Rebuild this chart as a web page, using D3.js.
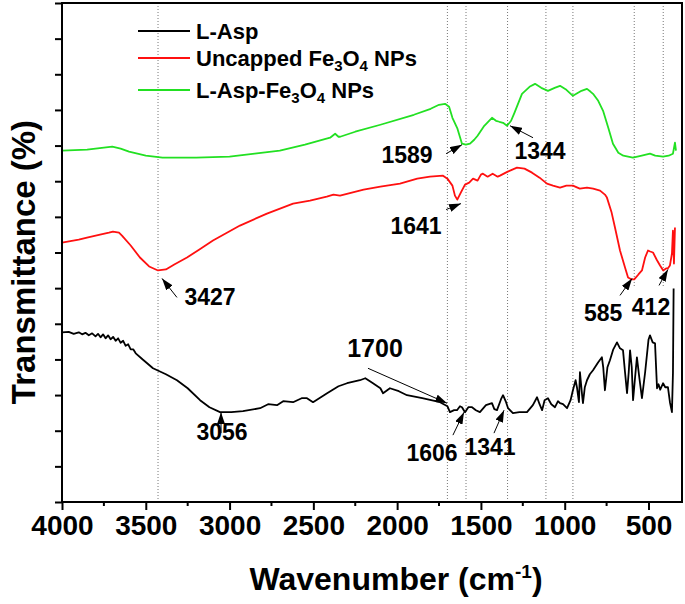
<!DOCTYPE html>
<html>
<head>
<meta charset="utf-8">
<script src="https://cdn.jsdelivr.net/npm/d3@7"></script>
<style>
  body { margin: 0; background: #fff; }
  svg { font-family: "Liberation Sans", Arial, sans-serif; font-weight: bold; }
</style>
</head>
<body>
<svg width="685" height="604"></svg>
<script>
// wavenumber (cm-1), transmittance (offset, arbitrary units)
var aspData = [
  [4000,34],[3960,34.1],[3930,33.7],[3900,34],[3880,33.6],[3860,33.9],[3840,33.4],[3820,33.8],
  [3800,33.2],[3785,33.7],[3770,33],[3755,33.6],[3740,32.8],[3725,33.4],[3710,32.6],[3695,33.1],
  [3680,32.3],[3665,32.8],[3650,31.9],[3635,32.3],[3620,31.3],[3605,31.6],[3590,30.6],[3575,30.6],
  [3560,29.8],[3520,28.6],[3457,26.8],[3380,25.6],[3314,24.4],[3250,22.8],[3176,20.4],
  [3120,19],[3057,18],[2990,18],[2920,18.2],[2818,18.8],[2770,19.6],[2717,19.4],[2680,20.2],
  [2621,20],[2570,20.8],[2538,20.8],[2502,20],[2418,21.8],[2350,23.2],[2299,23.8],[2222,24.4],
  [2190,24.8],[2144,23.8],[2100,22.8],[2084,21.8],[2043,22.8],[1990,22.2],[1941,21.4],[1850,20.8],
  [1744,20],[1700,19.2],[1685,18],[1660,18.4],[1643,18.4],[1625,19.2],[1613,19],[1595,18],
  [1575,19],[1553,19],[1530,18.4],[1506,18],[1470,19.4],[1434,19.8],[1420,18.6],[1404,18.4],
  [1380,20.6],[1368,21.4],[1350,20],[1338,18.8],[1309,17.8],[1270,18],[1225,18],[1190,19.4],
  [1165,21],[1150,19.6],[1135,18.4],[1120,20.4],[1100,20.8],[1080,19.6],[1058,19],[1040,20.2],
  [1028,19.8],[1010,19.6],[986,18.8],[965,20.4],[951,22.4],[935,24.4],[927,23],[915,20],
  [909,26],[895,21],[891,19.8],[880,23],[867,24.4],[850,25.6],[831,26.4],[800,28],[778,29],
  [770,27],[760,22.4],[745,27],[730,28.4],[710,30.6],[688,32],[670,30.8],[652,30.4],[640,26],
  [628,21.8],[618,26],[610,30.4],[600,27],[592,20.4],[580,25],[569,29],[555,25],[539,20.8],
  [520,26],[500,32.5],[491,33.4],[475,32],[461,31.8],[449,22.8],[440,23.6],[430,22.5],[413,23.8],
  [400,23],[384,23],[372,20],[360,18],[354,25.8],[350,42.8]
];
var uncappedData = [
  [4000,52],[3900,52.6],[3851,53],[3773,53.6],[3720,54],[3696,54.2],[3660,54],[3642,53.4],
  [3590,51.4],[3535,49],[3480,47.2],[3427,46.4],[3380,46.6],[3330,47.6],[3254,49],[3180,50.6],
  [3099,52.4],[2938,55.4],[2777,57.8],[2621,59.8],[2520,60.4],[2420,61.2],[2380,61.6],[2341,61.4],
  [2200,62.6],[2100,63.2],[1983,63.8],[1880,64.8],[1804,65.2],[1726,65.4],[1700,64.8],[1670,63.4],
  [1655,61.4],[1641,60.6],[1620,62],[1595,63.6],[1570,64],[1547,64.8],[1520,64.4],[1500,65.6],
  [1488,65.8],[1460,65.2],[1430,65.8],[1400,65.2],[1386,65.4],[1340,66.2],[1285,67],[1240,66.8],
  [1195,66],[1150,65],[1106,63.8],[1070,63.4],[1028,63],[990,63.4],[951,63.4],[910,62.8],
  [867,63],[830,62.8],[789,62.4],[760,61.6],[748,61],[720,58],[700,55],[670,50.4],[640,47],
  [622,45],[600,44.6],[585,44.6],[560,45.6],[539,46.4],[520,49],[503,50.4],[490,50.2],[473,50],
  [450,48.5],[431,47.4],[412,46.4],[395,46.8],[385,46.8],[372,47.4],[360,49.8],[354,54.4],
  [348,47.8],[342,55]
];
var cappedData = [
  [4000,70.4],[3850,70.6],[3750,71],[3700,71.2],[3650,70.8],[3600,70.2],[3500,69.4],[3400,69],
  [3200,69],[3000,69.2],[2850,69.8],[2700,70.4],[2550,71.6],[2400,73],[2370,73.8],[2350,73.2],
  [2340,73.2],[2250,74.2],[2100,75.6],[1900,77.6],[1800,78.8],[1750,79.6],[1714,79.8],[1690,79.2],
  [1670,77],[1640,74.8],[1613,71.8],[1590,71.6],[1565,71.8],[1540,72.6],[1520,73.4],[1480,75.4],
  [1434,77],[1410,76.4],[1390,76.2],[1368,76],[1344,75.4],[1320,76.4],[1300,78],[1255,81.8],
  [1210,83.2],[1177,83.8],[1140,83],[1100,82.4],[1060,83],[1028,83.4],[990,82.6],[951,81.4],
  [900,82.4],[867,82.8],[845,82.2],[831,81.8],[800,80.4],[771,78.4],[740,75],[712,71.8],
  [680,70],[650,69.4],[593,69],[540,69.4],[491,69.8],[460,69.4],[413,69.2],[380,69.4],
  [354,69.8],[342,72],[336,70.4]
];

var seriesNames = ["L-Asp", "Uncapped Fe3O4 NPs", "L-Asp-Fe3O4 NPs"];
var seriesColors = ["#000000", "#ff1010", "#22e022"];

var xTicks = [4000, 3500, 3000, 2500, 2000, 1500, 1000, 500];
var xMinor = [3750, 3250, 2750, 2250, 1750, 1250, 750];

// dotted guide lines: wavenumber, lower end
var refLines = [[3427,0],[1700,0],[1589,0],[1341,0],[1112,0],[951,0],[585,43],[412,43]];

// label, label x, label y, arrow from (x,y), arrow to (x,y), font size
var peakLabels = [
  ["1589", 1941, 68,   1708, 69.8, 1613, 71.6, 23],
  ["1344", 1147, 68.8, 1189, 73,   1326, 75.4, 23],
  ["1641", 1887, 53.8, 1708, 58.6, 1619, 59.8, 23],
  ["3427", 3117, 39.4, 3314, 41,   3403, 44.8, 23],
  ["3056", 3045, 12.4, 3051, 13.8, 3051, 18,   23],
  ["1700", 2132, 29,   2174, 26.8, 1702, 19.8, 25],
  ["1606", 1792, 8.2,  1667, 13.4, 1601, 18,   23],
  ["1341", 1446, 9.4,  1422, 13.8, 1362, 18.4, 23],
  ["585",  771,  36.2, 670,  41.4, 598,  44.8, 23],
  ["412",  485,  37.4, 437,  43.4, 384,  46.6, 23]
];

var svg = d3.select("svg");
var margin = {left: 62, right: 3, top: 3, bottom: 102};
var width = +svg.attr("width"), height = +svg.attr("height");

var x = d3.scaleLinear().domain([4000, 300]).range([margin.left, width - margin.right]);
var y = d3.scaleLinear().domain([0, 100]).range([height - margin.bottom, margin.top]);

svg.append("defs").append("marker")
  .attr("id", "head")
  .attr("viewBox", "0 0 12 8")
  .attr("markerUnits", "userSpaceOnUse")
  .attr("markerWidth", 12).attr("markerHeight", 8)
  .attr("refX", 12).attr("refY", 4)
  .attr("orient", "auto")
  .append("path").attr("d", "M0,0L12,4L0,8z").attr("fill", "#000");

// guide lines
svg.selectAll(".ref")
  .data(refLines)
  .enter().append("line")
  .attr("x1", function(d) { return x(d[0]); })
  .attr("x2", function(d) { return x(d[0]); })
  .attr("y1", y(100))
  .attr("y2", function(d) { return y(d[1]); })
  .attr("stroke", "#777")
  .attr("stroke-width", 1)
  .attr("stroke-dasharray", "1,2");

var line = d3.line()
  .x(function(d) { return x(d[0]); })
  .y(function(d) { return y(d[1]); });

[aspData, uncappedData, cappedData].forEach(function(data, i) {
  svg.append("path")
    .datum(data)
    .attr("d", line)
    .attr("fill", "none")
    .attr("stroke", seriesColors[i])
    .attr("stroke-width", 1.8)
    .attr("stroke-linejoin", "round");
});

// frame
svg.append("rect")
  .attr("x", x(4000)).attr("y", y(100))
  .attr("width", x(300) - x(4000)).attr("height", y(0) - y(100))
  .attr("fill", "none").attr("stroke", "#000").attr("stroke-width", 2);

// x axis
var xAxis = svg.append("g")
  .attr("transform", "translate(0," + y(0) + ")")
  .call(d3.axisBottom(x).tickValues(xTicks).tickSize(8).tickPadding(5).tickFormat(d3.format("d")));
xAxis.select(".domain").remove();
xAxis.selectAll(".tick line").attr("stroke-width", 2);
xAxis.selectAll("text").attr("font-size", 28).attr("font-weight", "bold")
  .attr("font-family", "Liberation Sans, Arial, sans-serif").attr("fill", "#000");

svg.append("g")
  .attr("transform", "translate(0," + y(0) + ")")
  .selectAll("line").data(xMinor).enter().append("line")
  .attr("x1", function(d) { return x(d); }).attr("x2", function(d) { return x(d); })
  .attr("y1", 0).attr("y2", 4)
  .attr("stroke", "#000").attr("stroke-width", 2);

// y axis ticks, no labels
var yTicks = d3.range(0, 15).map(function(i) { return i * 100 / 14; });
var yAxis = svg.append("g")
  .attr("transform", "translate(" + x(4000) + ",0)")
  .call(d3.axisLeft(y).tickValues(yTicks).tickSize(7).tickFormat(""));
yAxis.select(".domain").remove();
yAxis.selectAll(".tick line").attr("stroke-width", 2);

// axis titles
var xt = svg.append("text")
  .attr("x", 396).attr("y", 590)
  .attr("text-anchor", "middle")
  .attr("font-size", 32);
xt.append("tspan").text("Wavenumber (cm");
xt.append("tspan").attr("dy", -12).attr("font-size", 19).text("-1");
xt.append("tspan").attr("dy", 12).text(")");

svg.append("text")
  .attr("transform", "translate(35,262) rotate(-90)")
  .attr("text-anchor", "middle")
  .attr("font-size", 33)
  .text("Transmittance (%)");

// legend
var legendY = [31, 58, 90];
seriesNames.forEach(function(name, i) {
  var g = svg.append("g").attr("transform", "translate(138," + legendY[i] + ")");
  g.append("line").attr("x1", 0).attr("x2", 52).attr("y1", 0).attr("y2", 0)
    .attr("stroke", seriesColors[i]).attr("stroke-width", 2);
  var t = g.append("text").attr("x", 58).attr("y", 8).attr("font-size", 22);
  var parts = name.split("Fe3O4");
  if (parts.length === 1) {
    t.text(name);
  } else {
    t.append("tspan").text(parts[0] + "Fe");
    t.append("tspan").attr("dy", 5).attr("font-size", 15).text("3");
    t.append("tspan").attr("dy", -5).text("O");
    t.append("tspan").attr("dy", 5).attr("font-size", 15).text("4");
    t.append("tspan").attr("dy", -5).text(parts[1]);
  }
});

// peak labels
peakLabels.forEach(function(p) {
  svg.append("line")
    .attr("x1", x(p[3])).attr("y1", y(p[4]))
    .attr("x2", x(p[5])).attr("y2", y(p[6]))
    .attr("stroke", "#000").attr("stroke-width", 1)
    .attr("marker-end", "url(#head)");
  svg.append("text")
    .attr("x", x(p[1])).attr("y", y(p[2]))
    .attr("text-anchor", "middle")
    .attr("font-size", p[7])
    .text(p[0]);
});
</script>
</body>
</html>
